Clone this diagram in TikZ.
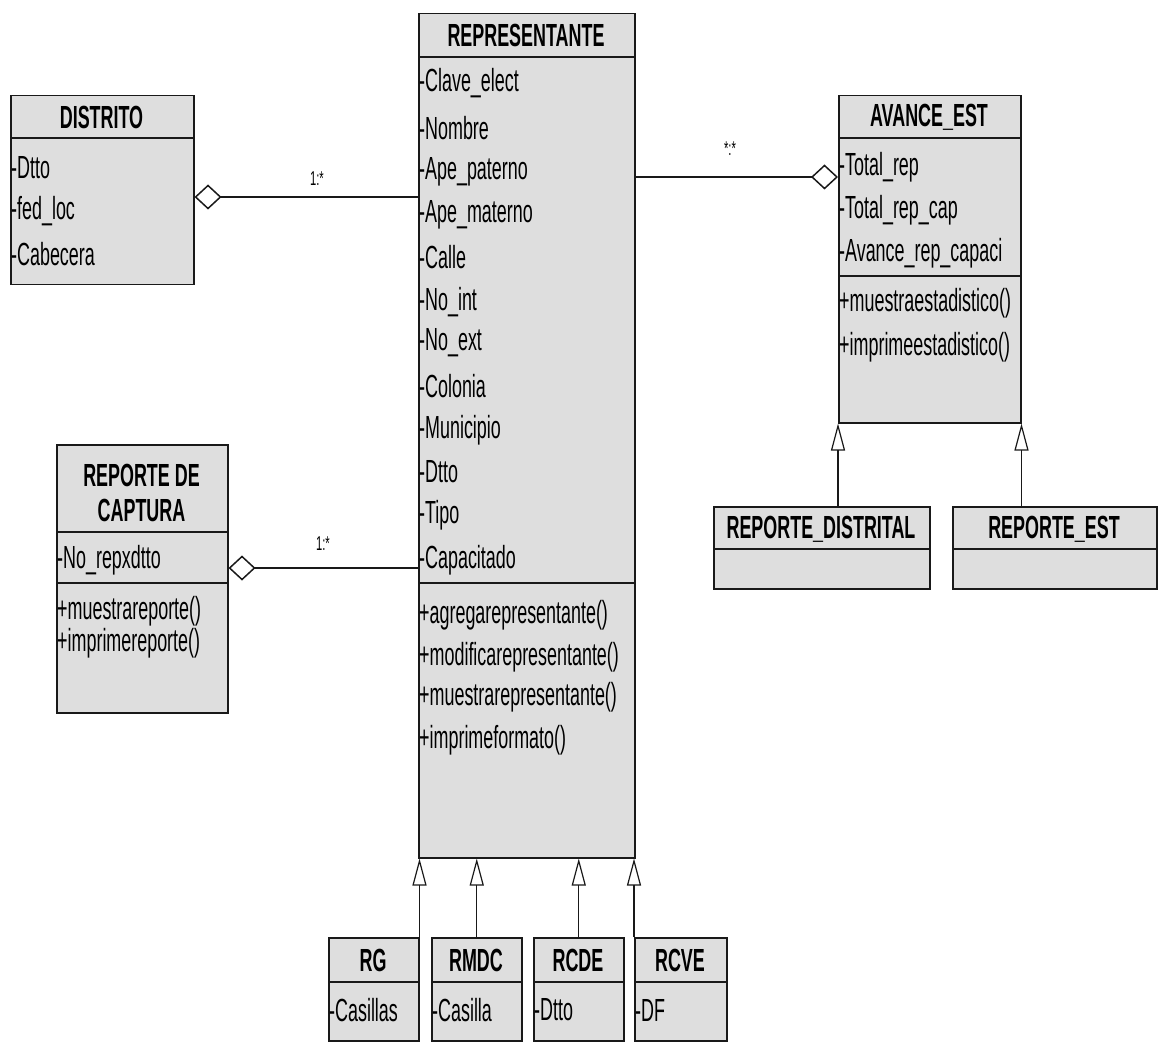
\documentclass[tikz,border=0pt]{standalone}
\usepackage{fontspec}
\setmainfont[FakeStretch=0.56]{Liberation Sans}
\usetikzlibrary{arrows.meta}
\definecolor{classfill}{RGB}{222,222,222}
\definecolor{lineblk}{RGB}{25,25,25}
\tikzset{
  classbox/.style={draw=lineblk, fill=classfill, line width=1.5pt, rectangle, inner sep=0pt, anchor=north west},
  sepline/.style={draw=lineblk, line width=1.5pt},
  hdr/.style={font=\fontsize{32}{35}\selectfont\bfseries, inner sep=0pt, align=center},
  mem/.style={font=\fontsize{32}{34}\selectfont, anchor=west, inner sep=0pt},
  mult/.style={font=\fontsize{20}{22}\selectfont, inner sep=0pt},
  agg/.style={draw=lineblk, line width=1.5pt, {Diamond[open,length=27pt,width=25pt]}-},
  gen/.style={draw=lineblk, line width=1.2pt, -{Triangle[open,length=27pt,width=14pt]}},
}
\begin{document}
\begin{tikzpicture}[x=1pt,y=-1pt]
\useasboundingbox (0,0) rectangle (1158,1048);

% DISTRITO
\node[classbox, minimum width=183pt, minimum height=189pt] (distrito) at (10,95) {};
\draw[sepline] (distrito.west |- 0,138) -- (distrito.east |- 0,138);
\node[hdr] (distritoh) at (101.5,117) {DISTRITO};
\node[mem] (d1) at (11,168) {-Dtto};
\node[mem] (d2) at (11,211) {-fed\_loc};
\node[mem] (d3) at (11,254) {-Cabecera};

% REPRESENTANTE
\node[classbox, minimum width=216pt, minimum height=844pt] (repr) at (418,13) {};
\draw[sepline] (repr.west |- 0,57) -- (repr.east |- 0,57);
\draw[sepline] (repr.west |- 0,583) -- (repr.east |- 0,583);
\node[hdr] (reprh) at (526,35) {REPRESENTANTE};
\node[mem] (r1) at (419,83) {-Clave\_elect};
\node[mem] (r2) at (419,128) {-Nombre};
\node[mem] (r3) at (419,172) {-Ape\_paterno};
\node[mem] (r4) at (419,215) {-Ape\_materno};
\node[mem] (r5) at (419,257) {-Calle};
\node[mem] (r6) at (419,302) {-No\_int};
\node[mem] (r7) at (419,343) {-No\_ext};
\node[mem] (r8) at (419,386) {-Colonia};
\node[mem] (r9) at (419,430) {-Municipio};
\node[mem] (r10) at (419,472) {-Dtto};
\node[mem] (r11) at (419,515) {-Tipo};
\node[mem] (r12) at (419,560) {-Capacitado};
\node[mem] (rm1) at (419,615) {+agregarepresentante()};
\node[mem] (rm2) at (419,657) {+modificarepresentante()};
\node[mem] (rm3) at (419,697) {+muestrarepresentante()};
\node[mem] (rm4) at (419,740) {+imprimeformato()};

% AVANCE_EST
\node[classbox, minimum width=182pt, minimum height=327pt] (avance) at (838,95) {};
\draw[sepline] (avance.west |- 0,138) -- (avance.east |- 0,138);
\draw[sepline] (avance.west |- 0,276) -- (avance.east |- 0,276);
\node[hdr] (avanceh) at (929,117) {AVANCE\_EST};
\node[mem] (a1) at (839,167) {-Total\_rep};
\node[mem] (a2) at (839,210) {-Total\_rep\_cap};
\node[mem] (a3) at (839,253) {-Avance\_rep\_capaci};
\node[mem] (am1) at (839,303) {+muestraestadistico()};
\node[mem] (am2) at (839,347) {+imprimeestadistico()};

% REPORTE DE CAPTURA
\node[classbox, minimum width=171pt, minimum height=268pt] (captura) at (56,444) {};
\draw[sepline] (captura.west |- 0,532) -- (captura.east |- 0,532);
\draw[sepline] (captura.west |- 0,583) -- (captura.east |- 0,583);
\node[hdr] (capturah) at (141.5,492.5) {REPORTE DE\\CAPTURA};
\node[mem] (c1) at (57,560) {-No\_repxdtto};
\node[mem] (cm1) at (57,611) {+muestrareporte()};
\node[mem] (cm2) at (57,643) {+imprimereporte()};

% REPORTE_DISTRITAL
\node[classbox, minimum width=216pt, minimum height=82pt] (rdist) at (713,506) {};
\draw[sepline] (rdist.west |- 0,549) -- (rdist.east |- 0,549);
\node[hdr] (rdisth) at (821,529) {REPORTE\_DISTRITAL};

% REPORTE_EST
\node[classbox, minimum width=204pt, minimum height=82pt] (rest) at (952,506) {};
\draw[sepline] (rest.west |- 0,549) -- (rest.east |- 0,549);
\node[hdr] (resth) at (1054,529) {REPORTE\_EST};

% RG
\node[classbox, minimum width=90pt, minimum height=103pt] (rg) at (328,937) {};
\draw[sepline] (rg.west |- 0,982) -- (rg.east |- 0,982);
\node[hdr] (rgh) at (373,960) {RG};
\node[mem] (rg1) at (329,1010) {-Casillas};

% RMDC
\node[classbox, minimum width=90pt, minimum height=103pt] (rmdc) at (431,937) {};
\draw[sepline] (rmdc.west |- 0,982) -- (rmdc.east |- 0,982);
\node[hdr] (rmdch) at (476,960) {RMDC};
\node[mem] (rmdc1) at (432,1010) {-Casilla};

% RCDE
\node[classbox, minimum width=90pt, minimum height=103pt] (rcde) at (533,937) {};
\draw[sepline] (rcde.west |- 0,982) -- (rcde.east |- 0,982);
\node[hdr] (rcdeh) at (578,960) {RCDE};
\node[mem] (rcde1) at (534,1010) {-Dtto};

% RCVE
\node[classbox, minimum width=92pt, minimum height=103pt] (rcve) at (634,937) {};
\draw[sepline] (rcve.west |- 0,982) -- (rcve.east |- 0,982);
\node[hdr] (rcveh) at (680,960) {RCVE};
\node[mem] (rcve1) at (635,1010) {-DF};

% aggregations
\draw[agg] (distrito.east |- 0,197) -- (repr.west |- 0,197);
\draw[agg] (avance.west |- 0,177) -- (repr.east |- 0,177);
\draw[agg] (captura.east |- 0,568) -- (repr.west |- 0,568);
\node[mult] (m1) at (317,179) {1:*};
\node[mult] (m2) at (730,149) {*:*};
\node[mult] (m3) at (323,544) {1:*};

% generalizations
\draw[gen] (rg.north east) -- (rg.north east |- repr.south);
\draw[gen] (rmdc.north) -- (rmdc.north |- repr.south);
\draw[gen] (rcde.north) -- (rcde.north |- repr.south);
\draw[gen] (rcve.north west) -- (rcve.north west |- repr.south);
\draw[gen] (rdist.north -| avance.west) -- (avance.south west);
\draw[gen] (rest.north -| avance.east) -- (avance.south east);
\end{tikzpicture}
\end{document}
